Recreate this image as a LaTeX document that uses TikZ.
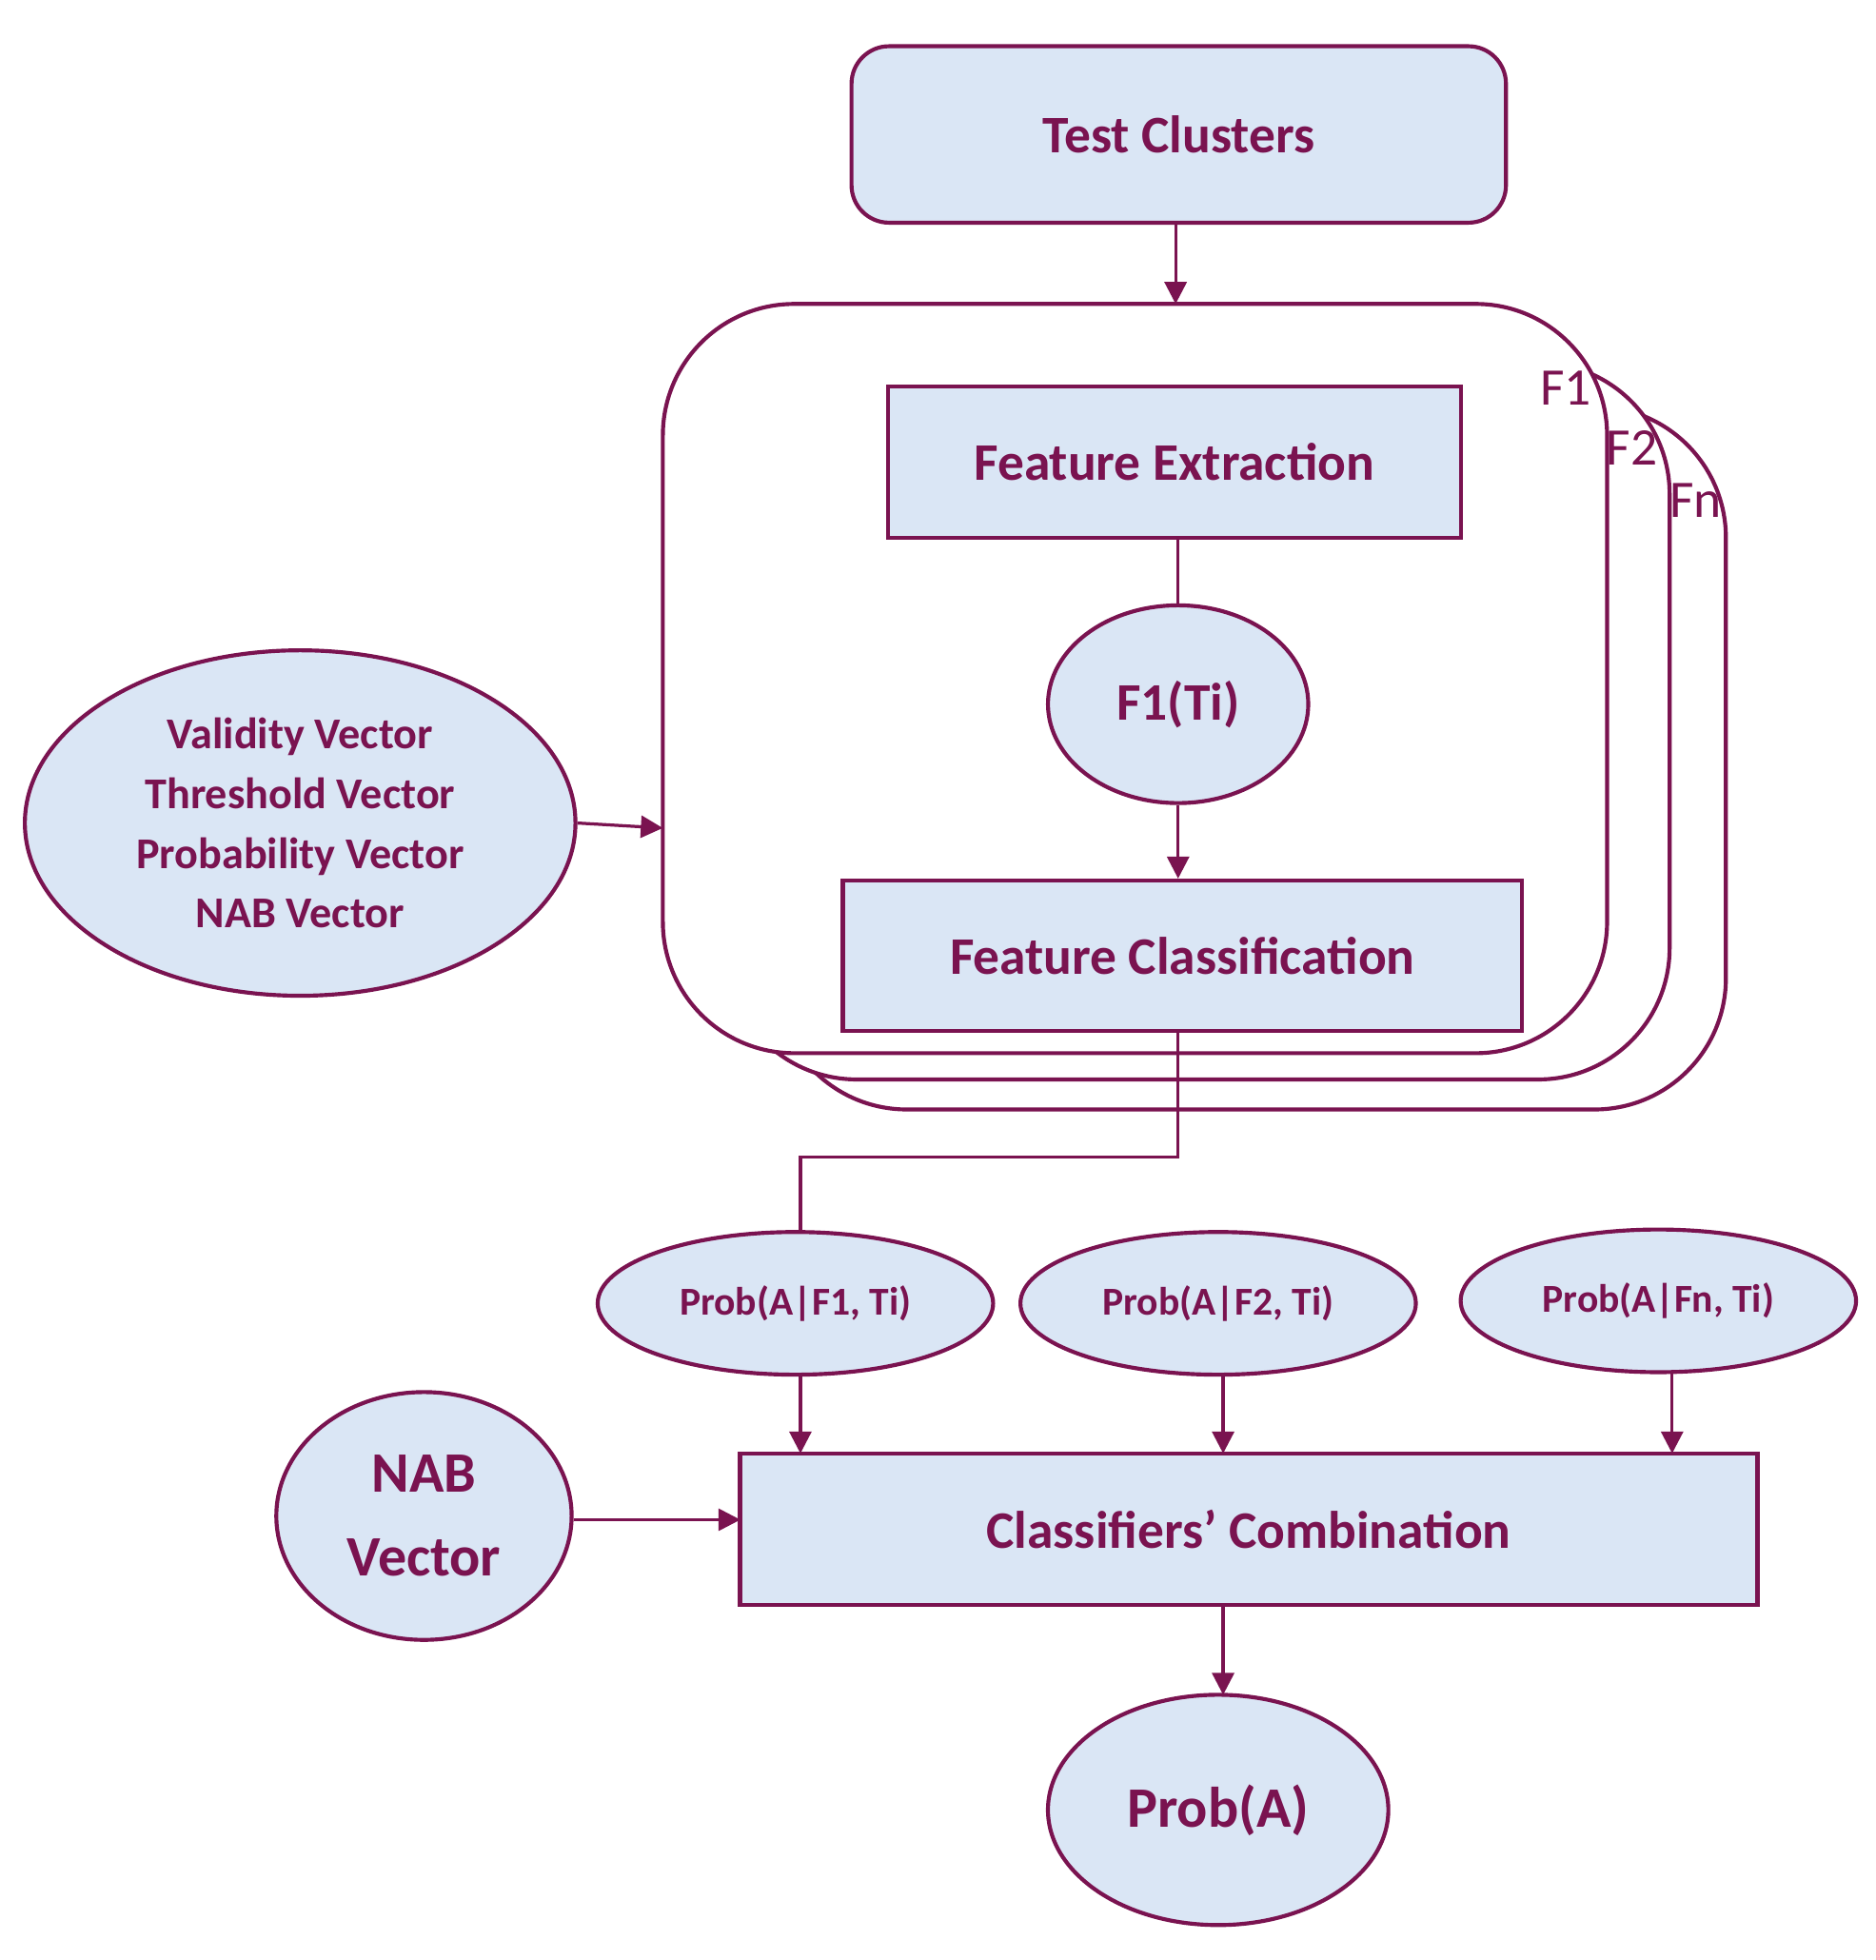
\documentclass[tikz,border=0pt]{standalone}
\usepackage{fontspec}
\setmainfont{Carlito}
\usetikzlibrary{arrows.meta,shapes.geometric}
\definecolor{dm}{HTML}{7A1350}
\definecolor{lb}{HTML}{DAE6F5}
\begin{document}
\begin{tikzpicture}[x=0.01cm,y=-0.01cm,
  every node/.style={text=dm},
  box/.style={draw=dm,fill=lb,line width=0.9pt,font=\bfseries\fontsize{12}{14}\selectfont},
  ell/.style={draw=dm,fill=lb,line width=0.9pt,ellipse,inner sep=0pt},
  frame/.style={draw=dm,fill=white,line width=0.9pt,rounded corners=1.05cm},
  arr/.style={draw=dm,line width=0.7pt,-{Triangle[length=5pt,width=5pt]}},
  ln/.style={draw=dm,line width=0.7pt}]
\useasboundingbox (0,0) rectangle (1500,1567);
\node[box,rounded corners=0.3cm,minimum width=5.23cm,minimum height=1.41cm] (tc) at (942.5,107.5) {Test Clusters};
% stacked frames
\draw[frame] (620,325) rectangle (1380,887);
\draw[frame] (580,290) rectangle (1335,863);
\draw[frame] (530,243) rectangle (1285,842);
\coordinate (ftop) at (940,243);
\coordinate (fleft) at (530,662);
\node[font=\fontsize{12}{14}\selectfont] (l1) at (1252,310) {F1};
\node[font=\fontsize{12}{14}\selectfont] (l2) at (1305,358) {F2};
\node[font=\fontsize{12}{14}\selectfont] (l3) at (1356,400) {Fn};
\draw[arr] (tc.south -| ftop) -- (ftop);
\node[box,minimum width=4.58cm,minimum height=1.21cm] (fe) at (939,369.5) {Feature Extraction};
\node[ell,minimum width=2.08cm,minimum height=1.58cm,font=\bfseries\fontsize{12}{14}\selectfont] (f1) at (942,563) {F1(Ti)};
\node[box,minimum width=5.43cm,minimum height=1.2cm] (fc) at (945.5,764) {Feature Classification};
\draw[ln] (f1.north |- fe.south) -- (f1.north);
\draw[arr] (f1.south) -- (f1.south |- fc.north);
\node[ell,minimum width=4.4cm,minimum height=2.76cm,align=center,font=\bfseries\fontsize{10}{13.6}\selectfont] (vv) at (240,658) {Validity Vector\\Threshold Vector\\Probability Vector\\NAB Vector};
\draw[arr] (vv.east) -- (fleft);
\node[ell,minimum width=3.16cm,minimum height=1.14cm,font=\bfseries\fontsize{9}{11}\selectfont] (p1) at (636,1042) {Prob(A|F1, Ti)};
\node[ell,minimum width=3.16cm,minimum height=1.14cm,font=\bfseries\fontsize{9}{11}\selectfont] (p2) at (974,1042) {Prob(A|F2, Ti)};
\node[ell,minimum width=3.16cm,minimum height=1.14cm,font=\bfseries\fontsize{9}{11}\selectfont] (p3) at (1326,1040) {Prob(A|Fn, Ti)};
\coordinate (bend1) at (942,925);
\coordinate (bend2) at (640,925);
\draw[ln] (942,824) -- (bend1) -- (bend2) -- (640,985);
\node[box,minimum width=8.13cm,minimum height=1.21cm] (cc) at (998.5,1222.5) {Classifiers’ Combination};
\draw[arr] (640,1099) -- (640,1162);
\draw[arr] (978,1099) -- (978,1162);
\draw[arr] (1337,1097) -- (1337,1162);
\node[ell,minimum width=2.36cm,minimum height=1.98cm,align=center,font=\bfseries\fontsize{13}{19}\selectfont] (nab) at (339,1212) {NAB\\Vector};
\draw[arr] (nab.east |- 0,1215) -- (592,1215);
\node[ell,minimum width=2.72cm,minimum height=1.84cm,font=\bfseries\fontsize{13}{15}\selectfont] (pa) at (974,1447) {Prob(A)};
\draw[arr] (978,1283) -- (978,1355);
\end{tikzpicture}
\end{document}
